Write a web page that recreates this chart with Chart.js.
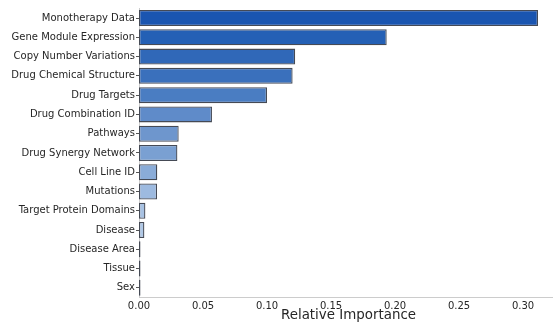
<!DOCTYPE html>
<html>
<head>
<meta charset="utf-8">
<script src="https://cdn.jsdelivr.net/npm/chart.js@4"></script>
<style>
  html, body { margin: 0; padding: 0; background: #fff; overflow: hidden; }
  #wrap { width: 558px; height: 325px; position: relative; }
</style>
</head>
<body>
<div id="wrap"><canvas id="importanceChart"></canvas></div>
<script>
  // feature names, top to bottom
  const features = [
    'Monotherapy Data', 'Gene Module Expression', 'Copy Number Variations',
    'Drug Chemical Structure', 'Drug Targets', 'Drug Combination ID', 'Pathways',
    'Drug Synergy Network', 'Cell Line ID', 'Mutations', 'Target Protein Domains',
    'Disease', 'Disease Area', 'Tissue', 'Sex'
  ];
  const importance = [
    0.3117, 0.1935, 0.1220, 0.1200, 0.1000, 0.0570, 0.0310,
    0.0300, 0.0143, 0.0141, 0.0050, 0.0042, 0.0010, 0.0003, 0.0002
  ];
  const xTicks = [0, 0.05, 0.10, 0.15, 0.20, 0.25, 0.30];

  // dark -> light blues
  const barColors = [
    '#1a55b0', '#2460b5', '#3068b8', '#3a70bc', '#4a7dc2', '#5f8bc9', '#6e96cd',
    '#7aa0d2', '#8aacd8', '#9dbae0', '#a8c2e3', '#b0c8e6', '#b8cde9', '#c0d3eb', '#c8d8ee'
  ];

  const textColor = '#262626';

  new Chart(document.getElementById('importanceChart'), {
    type: 'bar',
    data: {
      labels: features,
      datasets: [{
        data: importance,
        backgroundColor: barColors,
        borderColor: '#454a55',
        borderWidth: 1.3,
        borderSkipped: false,
        minBarLength: 1.5,
        barPercentage: 0.83,
        categoryPercentage: 1.0
      }]
    },
    options: {
      indexAxis: 'y',
      responsive: true,
      maintainAspectRatio: false,
      animation: false,
      layout: { padding: { top: 8.4, right: 0, bottom: 0, left: 0 } },
      plugins: {
        legend: { display: false },
        tooltip: { enabled: false }
      },
      scales: {
        x: {
          min: 0,
          max: 0.3273,
          afterFit: (s) => { s.height = 27.5; },
          afterBuildTicks: (s) => { s.ticks = xTicks.map(v => ({ value: v })); },
          ticks: {
            color: textColor,
            font: { family: 'DejaVu Sans', size: 10 },
            padding: -5,
            maxRotation: 0,
            callback: (v) => Number(v).toFixed(2)
          },
          grid: { display: false },
          border: { display: true, color: '#cccccc', width: 1 },
          title: {
            display: true,
            text: 'Relative Importance',
            color: textColor,
            font: { family: 'DejaVu Sans', size: 13.4 },
            padding: { top: 0, bottom: 1 }
          }
        },
        y: {
          afterFit: (s) => { s.width = 139; },
          ticks: {
            color: textColor,
            font: { family: 'DejaVu Sans', size: 10 },
            padding: 1
          },
          grid: {
            offset: false,
            drawOnChartArea: false,
            drawTicks: true,
            tickLength: 3,
            color: '#555555'
          },
          border: { display: true, color: '#cccccc', width: 1 }
        }
      }
    }
  });
</script>
</body>
</html>
